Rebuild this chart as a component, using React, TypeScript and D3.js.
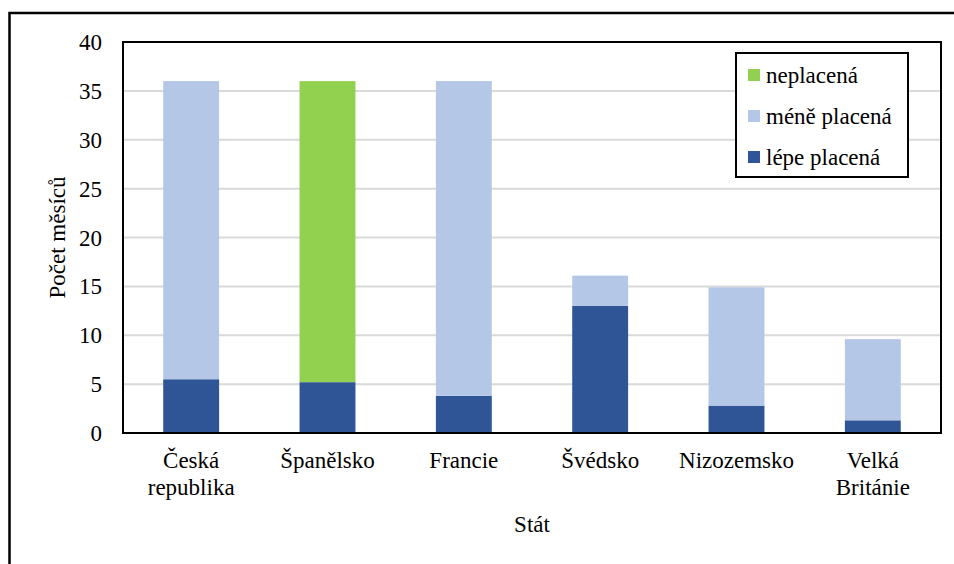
import React from 'react';
import * as d3 from 'd3';

const countries = ['Česká republika', 'Španělsko', 'Francie', 'Švédsko', 'Nizozemsko', 'Velká Británie'];
const lepePlacena = [5.5, 5.2, 3.8, 13, 2.8, 1.3];
const menePlacena = [30.5, 0, 32.2, 3.1, 12.1, 8.3];
const neplacena = [0, 30.8, 0, 0, 0, 0];
const yTicks = [0, 5, 10, 15, 20, 25, 30, 35, 40];

const seriesKeys = ['lepe', 'mene', 'nepl'];
const seriesNames: Record<string, string> = { lepe: 'lépe placená', mene: 'méně placená', nepl: 'neplacená' };
const colors: Record<string, string> = { lepe: '#2f5597', mene: '#b4c7e7', nepl: '#92d050' };

const W = 954;
const H = 564;
const m = { top: 42, right: 13, bottom: 131, left: 123 };
const txt = { fontFamily: "'Liberation Serif', 'Times New Roman', Tinos, 'DejaVu Serif'", fontSize: 23 };

export default function App() {
  const rows = countries.map((c, i) => ({ c, lepe: lepePlacena[i], mene: menePlacena[i], nepl: neplacena[i] }));
  const stacked = d3.stack<any>().keys(seriesKeys)(rows);

  const x = d3.scaleBand().domain(countries).range([m.left, W - m.right]).paddingInner(0.59).paddingOuter(0.295);
  const y = d3.scaleLinear().domain([0, 40]).range([H - m.bottom, m.top]);

  const plotL = m.left, plotR = W - m.right, plotT = m.top, plotB = H - m.bottom;
  const legendOrder = [...seriesKeys].reverse();

  return (
    <svg width={W} height={H} style={{ position: 'fixed', left: 0, top: 0, display: 'block', background: '#fff' }}>
      <rect x={0} y={0} width={W} height={H} fill="#fff" />
      {/* outer frame */}
      <rect x={9.5} y={13} width={W + 20} height={H + 20} fill="none" stroke="#000" strokeWidth={2.5} />

      {/* gridlines */}
      {yTicks.filter(t => t > 0 && t < 40).map(t => (
        <line key={t} x1={plotL} x2={plotR} y1={y(t)} y2={y(t)} stroke="#d9d9d9" strokeWidth={2} />
      ))}

      {/* bars */}
      {stacked.map(s => (
        <g key={s.key} fill={colors[s.key]}>
          {s.map((d, i) => d[1] - d[0] > 0 ? (
            <rect key={i} x={x(countries[i])} width={x.bandwidth()} y={y(d[1])} height={y(d[0]) - y(d[1])} />
          ) : null)}
        </g>
      ))}

      {/* plot border */}
      <rect x={plotL} y={plotT} width={plotR - plotL} height={plotB - plotT} fill="none" stroke="#000" strokeWidth={2} />

      {/* y ticks */}
      {yTicks.map(t => (
        <text key={t} x={102} y={y(t)} dy="0.35em" textAnchor="end" style={txt} fill="#000">{t}</text>
      ))}

      {/* x labels */}
      {countries.map(c => {
        const parts = c === 'Česká republika' ? ['Česká', 'republika'] : c === 'Velká Británie' ? ['Velká', 'Británie'] : [c];
        const cx = (x(c) as number) + x.bandwidth() / 2;
        return (
          <text key={c} x={cx} y={468} textAnchor="middle" style={txt} fill="#000">
            {parts.map((p, j) => (
              <tspan key={j} x={cx} y={468 + j * 27}>{p}</tspan>
            ))}
          </text>
        );
      })}

      {/* axis titles */}
      <text x={(plotL + plotR) / 2} y={532} textAnchor="middle" style={txt} fill="#000">Stát</text>
      <text transform={`translate(65,${(plotT + plotB) / 2}) rotate(-90)`} textAnchor="middle" style={txt} fill="#000">Počet měsíců</text>

      {/* legend */}
      <rect x={736} y={53} width={172} height={124} fill="#fff" stroke="#000" strokeWidth={2} />
      {legendOrder.map((k, i) => {
        const cy = 75 + i * 41;
        return (
          <g key={k}>
            <rect x={748} y={cy - 6} width={12} height={12} fill={colors[k]} />
            <text x={766} y={cy} dy="0.35em" style={txt} fill="#000">{seriesNames[k]}</text>
          </g>
        );
      })}
    </svg>
  );
}
